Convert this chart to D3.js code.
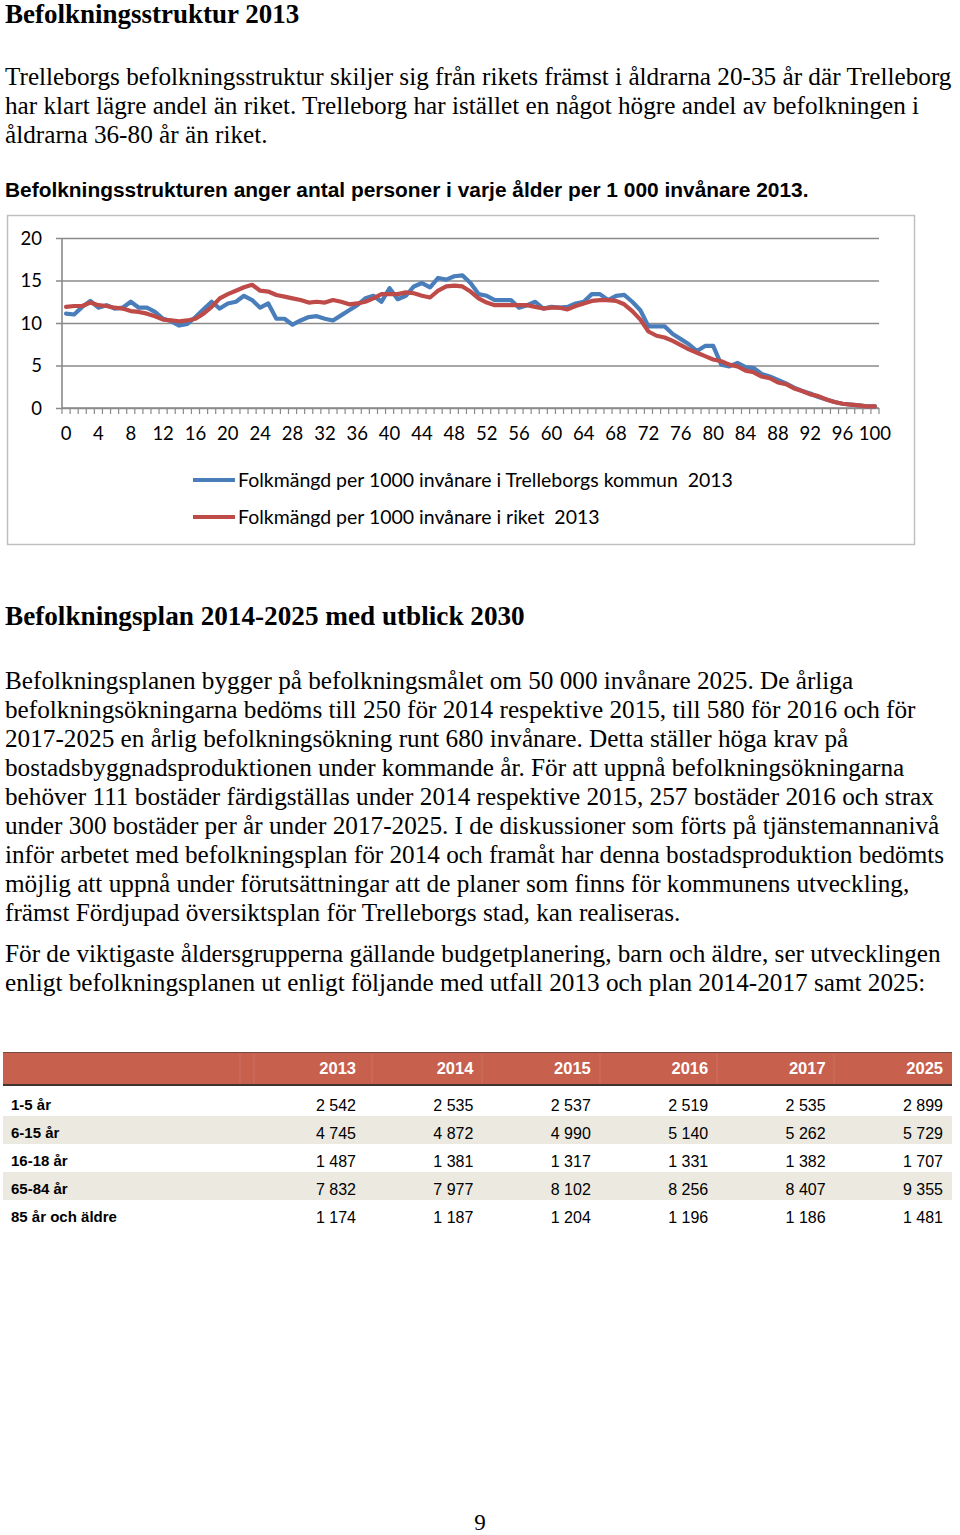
<!DOCTYPE html>
<html><head><meta charset="utf-8">
<script src="https://cdn.jsdelivr.net/npm/d3@7"></script>
<style>
body{margin:0;background:#fff}
svg{display:block}
text{white-space:pre}
</style>
</head><body>
<svg id="page" width="960" height="1535"></svg>
<script>
// ---------- DATA ----------
const ages = d3.range(0, 101);
const trelleborg = [
 11.1,11.0,11.9,12.6,11.8,12.1,11.7,11.8,12.5,11.8,
 11.8,11.3,10.5,10.2,9.7,9.9,10.7,11.6,12.5,11.7,
 12.3,12.5,13.2,12.7,11.8,12.3,10.5,10.5,9.8,10.3,
 10.7,10.8,10.5,10.3,10.9,11.5,12.1,12.9,13.2,12.5,
 14.1,12.8,13.2,14.3,14.7,14.2,15.3,15.1,15.5,15.6,
 14.7,13.4,13.2,12.7,12.7,12.7,11.8,12.1,12.5,11.7,
 11.9,11.8,11.9,12.3,12.5,13.4,13.4,12.7,13.2,13.3,
 12.5,11.5,9.6,9.6,9.6,8.7,8.1,7.5,6.7,7.3,
 7.3,5.1,4.9,5.3,4.8,4.7,4.0,3.7,3.3,2.9,
 2.4,2.0,1.7,1.3,1.0,0.7,0.5,0.4,0.3,0.2,
 0.2];
const riket = [
 11.9,12.0,12.0,12.4,12.1,12.0,11.8,11.7,11.4,11.3,
 11.1,10.8,10.4,10.3,10.2,10.3,10.5,11.1,11.9,12.9,
 13.4,13.8,14.2,14.5,13.8,13.7,13.3,13.1,12.9,12.7,
 12.4,12.5,12.4,12.7,12.5,12.2,12.3,12.5,12.9,13.4,
 13.4,13.4,13.6,13.5,13.2,13.0,13.8,14.3,14.4,14.3,
 13.7,12.9,12.4,12.1,12.1,12.1,12.1,12.1,11.9,11.7,
 11.8,11.8,11.6,12.0,12.3,12.6,12.7,12.7,12.6,12.2,
 11.4,10.4,9.0,8.5,8.3,7.9,7.4,6.9,6.5,6.1,
 5.7,5.5,5.1,4.9,4.4,4.2,3.7,3.5,3.0,2.8,
 2.3,2.0,1.6,1.4,1.0,0.7,0.5,0.4,0.3,0.2,
 0.2];
const yTicks = [0, 5, 10, 15, 20];
const xTickLabels = [0,4,8,12,16,20,24,28,32,36,40,44,48,52,56,60,64,68,72,76,80,84,88,92,96,100];
const seriesNames = [
 "Folkmängd per 1000 invånare i Trelleborgs kommun  2013",
 "Folkmängd per 1000 invånare i riket  2013"];
const seriesColors = ["#4a7ebb", "#be4b48"];

const tableYears = ["2013","2014","2015","2016","2017","2025"];
const tableGroups = ["1-5 år","6-15 år","16-18 år","65-84 år","85 år och äldre"];
const group1to5   = [2542,2535,2537,2519,2535,2899];
const group6to15  = [4745,4872,4990,5140,5262,5729];
const group16to18 = [1487,1381,1317,1331,1382,1707];
const group65to84 = [7832,7977,8102,8256,8407,9355];
const group85plus = [1174,1187,1204,1196,1186,1481];
const tableValues = [group1to5, group6to15, group16to18, group65to84, group85plus];

// ---------- TEXT ----------
const titleText = "Befolkningsstruktur 2013";
const para1 = [
 "Trelleborgs befolkningsstruktur skiljer sig från rikets främst i åldrarna 20-35 år där Trelleborg",
 "har klart lägre andel än riket. Trelleborg har istället en något högre andel av befolkningen i",
 "åldrarna 36-80 år än riket."];
const chartCaption = "Befolkningsstrukturen anger antal personer i varje ålder per 1 000 invånare 2013.";
const heading2 = "Befolkningsplan 2014-2025 med utblick 2030";
const para2 = [
 "Befolkningsplanen bygger på befolkningsmålet om 50 000 invånare 2025. De årliga",
 "befolkningsökningarna bedöms till 250 för 2014 respektive 2015, till 580 för 2016 och för",
 "2017-2025 en årlig befolkningsökning runt 680 invånare. Detta ställer höga krav på",
 "bostadsbyggnadsproduktionen under kommande år. För att uppnå befolkningsökningarna",
 "behöver 111 bostäder färdigställas under 2014 respektive 2015, 257 bostäder 2016 och strax",
 "under 300 bostäder per år under 2017-2025. I de diskussioner som förts på tjänstemannanivå",
 "inför arbetet med befolkningsplan för 2014 och framåt har denna bostadsproduktion bedömts",
 "möjlig att uppnå under förutsättningar att de planer som finns för kommunens utveckling,",
 "främst Fördjupad översiktsplan för Trelleborgs stad, kan realiseras."];
const para3 = [
 "För de viktigaste åldersgrupperna gällande budgetplanering, barn och äldre, ser utvecklingen",
 "enligt befolkningsplanen ut enligt följande med utfall 2013 och plan 2014-2017 samt 2025:"];
const pageNumber = "9";

// ---------- DRAW ----------
const svg = d3.select("#page");
svg.append("rect").attr("width",960).attr("height",1535).attr("fill","#fff");

const SERIF = "'Liberation Serif','Times New Roman',serif";
const SANS = "'Liberation Sans',Arial,sans-serif";
const CAL = "Lato,'Open Sans',sans-serif";

svg.append("text").attr("x",5).attr("y",23)
  .attr("font-family",SERIF).attr("font-weight","bold").attr("font-size",27)
  .attr("fill","#000").text(titleText);

// fit body font so that the first line of para1 spans x 5..952
let bodySize = 25;
(function(){
  const t = svg.append("text").attr("font-family",SERIF).attr("font-size",25).text(para1[0]);
  const w = t.node().getComputedTextLength();
  bodySize = Math.max(22, Math.min(27, 25 * 947 / w));
  t.remove();
})();

function para(lines, y0, step){
  svg.append("g").selectAll("text").data(lines).join("text")
    .attr("x",5).attr("y",(d,i)=>y0+i*step)
    .attr("font-family",SERIF).attr("font-size",bodySize).attr("fill","#000")
    .text(d=>d);
}
para(para1, 85, 29);

svg.append("text").attr("x",5).attr("y",197)
  .attr("font-family",SANS).attr("font-weight","bold").attr("font-size",20.9)
  .attr("fill","#000").text(chartCaption);

// chart frame
svg.append("rect").attr("x",7.5).attr("y",215.5).attr("width",907).attr("height",329)
  .attr("fill","#fff").attr("stroke","#c0c0c0").attr("stroke-width",1.5);

const x = d3.scaleBand().domain(ages).range([62, 879]).paddingInner(0).paddingOuter(0);
const y = d3.scaleLinear().domain([0, 20]).range([408, 238]);
const axisColor = "#8a8a8a";

// y axis + gridlines
const gy = svg.append("g").attr("transform","translate(62,0)");
gy.call(d3.axisLeft(y).tickValues(yTicks).tickSize(6).tickPadding(14).tickFormat(d3.format("d")));
gy.selectAll(".tick line").attr("x1",-6).attr("x2",879-62).attr("stroke",axisColor).attr("stroke-width",1.6);
gy.select(".domain").attr("stroke",axisColor).attr("stroke-width",1.6).attr("d","M0,238V408");
gy.selectAll(".tick text").attr("font-family",CAL).attr("font-size",18.5).attr("fill","#000")
  .attr("x",-20).attr("dy","0.34em");

// x axis
const gx = svg.append("g").attr("transform","translate(0,408)");
gx.call(d3.axisBottom(x).tickValues(xTickLabels).tickSize(0).tickPadding(20));
gx.select(".domain").attr("stroke",axisColor).attr("stroke-width",1.6).attr("d","M62,0H879");
gx.selectAll(".tick text").attr("font-family",CAL).attr("font-size",18.5).attr("fill","#000").attr("dy","0.71em").attr("y",19);
const bounds = ages.map(a=>x(a)).concat([x(100)+x.bandwidth()]);
gx.append("g").selectAll("line").data(bounds).join("line")
  .attr("x1",d=>d).attr("x2",d=>d).attr("y1",0).attr("y2",6)
  .attr("stroke",axisColor).attr("stroke-width",1.2);

// lines
const cx = a => x(a) + x.bandwidth()/2;
const line = d3.line().x((d,i)=>cx(ages[i])).y(d=>y(d));
[trelleborg, riket].forEach((s,k)=>{
  svg.append("path").datum(s).attr("d",line).attr("fill","none")
    .attr("stroke",seriesColors[k]).attr("stroke-width",4.2)
    .attr("stroke-linejoin","round").attr("stroke-linecap","round");
});

// legend
const legY = [480, 517];
seriesNames.forEach((n,k)=>{
  svg.append("line").attr("x1",193).attr("x2",235).attr("y1",legY[k]).attr("y2",legY[k])
    .attr("stroke",seriesColors[k]).attr("stroke-width",4.2);
  svg.append("text").attr("class","leg").attr("x",238).attr("y",legY[k]+6.5)
    .attr("font-family",CAL).attr("font-size",19.5).attr("fill","#000").text(n);
});
(function(){
  const t = svg.select("text.leg").node();
  const w = t.getComputedTextLength();
  const fs = 19.5 * 495 / w;
  svg.selectAll("text.leg").attr("font-size", Math.max(17, Math.min(21, fs)));
})();

svg.append("text").attr("x",5).attr("y",625)
  .attr("font-family",SERIF).attr("font-weight","bold").attr("font-size",27.2)
  .attr("fill","#000").text(heading2);

para(para2, 689, 29);
para(para3, 962, 29);

// ---------- TABLE ----------
const colRight = d3.scalePoint().domain(tableYears).range([356, 943]);
const rowBase = d3.scalePoint().domain(tableGroups).range([1110, 1222]);
const fmt = d3.formatLocale({decimal:",", thousands:" ", grouping:[3], currency:["",""]}).format(",d");

const tbl = svg.append("g");
tbl.selectAll("rect.shade").data(tableGroups.filter((d,i)=>i%2===1)).join("rect")
  .attr("class","shade").attr("x",3).attr("width",949)
  .attr("y",d=>rowBase(d)-22).attr("height",28).attr("fill","#ece9e1");
tbl.append("rect").attr("x",3).attr("y",1052).attr("width",949).attr("height",33).attr("fill","#c8604e");
tbl.append("line").attr("x1",3).attr("x2",952).attr("y1",1052.5).attr("y2",1052.5).attr("stroke","#7a4a40").attr("stroke-width",1);
tbl.append("line").attr("x1",3).attr("x2",952).attr("y1",1085).attr("y2",1085).attr("stroke","#3f3530").attr("stroke-width",2);
const seps = [240,254,372,482,600,717,834];
tbl.selectAll("line.sep").data(seps).join("line").attr("class","sep")
  .attr("x1",d=>d).attr("x2",d=>d).attr("y1",1054).attr("y2",1083)
  .attr("stroke","#fff").attr("stroke-opacity",0.12);
tbl.selectAll("text.yr").data(tableYears).join("text").attr("class","yr")
  .attr("x",d=>colRight(d)).attr("y",1074).attr("text-anchor","end")
  .attr("font-family",SANS).attr("font-weight","bold").attr("font-size",16.5).attr("fill","#fff")
  .text(d=>d);
tableGroups.forEach((g,r)=>{
  tbl.append("text").attr("x",11).attr("y",rowBase(g))
    .attr("font-family",SANS).attr("font-weight","bold").attr("font-size",15).attr("fill","#000").text(g);
  tbl.append("g").selectAll("text").data(tableValues[r]).join("text")
    .attr("x",(d,i)=>colRight(tableYears[i])).attr("y",rowBase(g)+0.5).attr("text-anchor","end")
    .attr("font-family",SANS).attr("font-size",16).attr("fill","#000").text(d=>fmt(d));
});

svg.append("text").attr("x",480).attr("y",1530).attr("text-anchor","middle")
  .attr("font-family",SERIF).attr("font-size",23).attr("fill","#000").text(pageNumber);
</script>
</body></html>
